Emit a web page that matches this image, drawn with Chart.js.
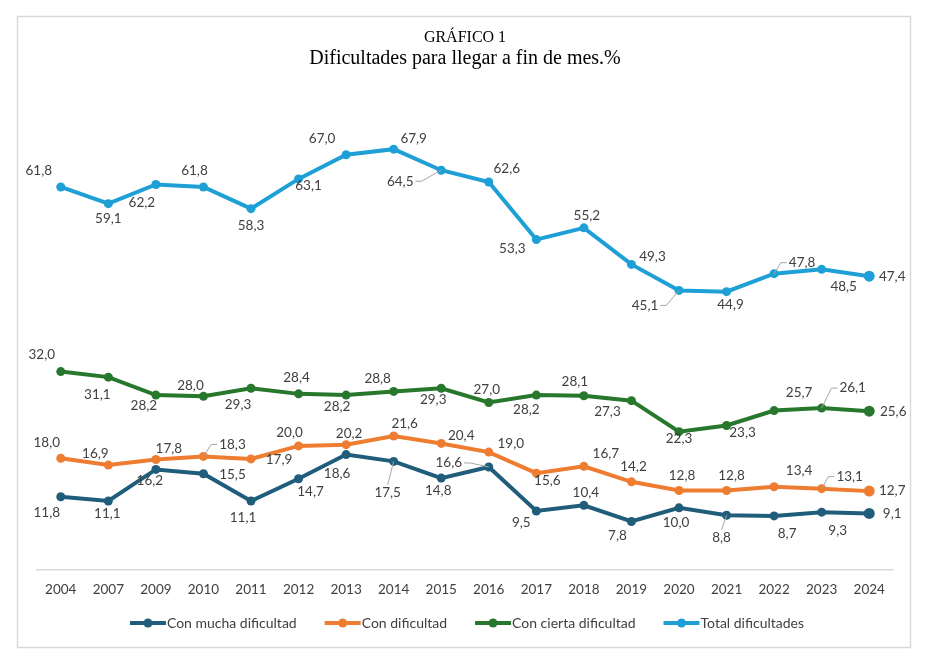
<!DOCTYPE html>
<html><head><meta charset="utf-8">
<script src="https://cdn.jsdelivr.net/npm/chart.js@4.4.1/dist/chart.umd.min.js"></script>
<style>html,body{margin:0;padding:0;background:#fff;} #wrap{width:936px;height:657px;position:relative;}</style>
</head><body><div id="wrap"><canvas id="c" width="936" height="657"></canvas></div>
<script>
// ---- data ----
const years = ['2004','2007','2009','2010','2011','2012','2013','2014','2015','2016','2017','2018','2019','2020','2021','2022','2023','2024'];
const conMucha = [11.8,11.1,16.2,15.5,11.1,14.7,18.6,17.5,14.8,16.6,9.5,10.4,7.8,10.0,8.8,8.7,9.3,9.1];
const conDificultad = [18.0,16.9,17.8,18.3,17.9,20.0,20.2,21.6,20.4,19.0,15.6,16.7,14.2,12.8,12.8,13.4,13.1,12.7];
const conCierta = [32.0,31.1,28.2,28.0,29.3,28.4,28.2,28.8,29.3,27.0,28.2,28.1,27.3,22.3,23.3,25.7,26.1,25.6];
const totalDif = [61.8,59.1,62.2,61.8,58.3,63.1,67.0,67.9,64.5,62.6,53.3,55.2,49.3,45.1,44.9,47.8,48.5,47.4];
const seriesNames = ['Con mucha dificultad','Con dificultad','Con cierta dificultad','Total dificultades'];

// ---- label placement (offset from point, optional leader line) ----
const labelMucha = [[-14,16],[-1,13],[-6,11],[29,1],[-8,17],[12,13],[-9,19],[-6,31,1],[-3,13],[-40,-4,1],[-15,12],[2,-13],[-14,14],[-3,15],[-5,22,1],[13,18],[16,18],[23,0]];
const labelDif = [[-14,-16],[-13,-11],[13,-11],[29,-12,1],[28,1],[-9,-13],[3,-11],[11,-12],[20,-8],[22,-8],[11,7],[22,-13],[2,-15],[3,-15],[5,-15],[25,-16],[28,-12,1],[23,0]];
const labelCierta = [[-19,-17],[-11,18],[-12,11],[-13,-11],[-13,16],[-2,-16],[-9,12],[-16,-13],[-8,11],[-2,-13],[-10,15],[-9,-14],[-24,11],[0,7],[16,7],[25,-18],[31,-20,1],[24,0]];
const labelTotal = [[-22,-16],[0,15],[-14,18],[-9,-16],[0,17],[10,7],[-24,-16],[20,-11],[-41,11,1],[18,-13],[-24,9],[3,-12],[21,-8],[-34,15,1],[4,13],[28,-11,1],[22,17],[23,0]];

const colors = ['#1F5D7B','#EE7D31','#27782D','#1EA0D7'];
const labelFont = '13.5px Lato';
const textColor = '#404040';

function ds(label, data, color, layout) {
  return {
    label, data,
    borderColor: color, backgroundColor: color,
    pointBackgroundColor: color, pointBorderColor: color,
    borderWidth: 4, pointBorderWidth: 0,
    pointRadius: c => c.dataIndex === data.length - 1 ? 5.5 : 4.5,
    tension: 0, labelLayout: layout
  };
}

const borderPlugin = {
  id: 'frame',
  beforeDraw(chart) {
    const ctx = chart.ctx;
    ctx.save();
    ctx.fillStyle = '#fff';
    ctx.fillRect(0, 0, chart.width, chart.height);
    ctx.strokeStyle = '#d9d9d9';
    ctx.lineWidth = 1.5;
    ctx.strokeRect(17.5, 16.5, 893, 631);
    ctx.restore();
  }
};

const labelPlugin = {
  id: 'valueLabels',
  afterDatasetsDraw(chart) {
    const ctx = chart.ctx;
    ctx.save();
    ctx.font = labelFont;
    ctx.textAlign = 'center';
    ctx.textBaseline = 'middle';
    chart.data.datasets.forEach((d, i) => {
      const meta = chart.getDatasetMeta(i);
      meta.data.forEach((pt, j) => {
        const lay = d.labelLayout[j];
        const txt = d.data[j].toFixed(1).replace('.', ',');
        const cx = pt.x + lay[0], cy = pt.y + lay[1];
        const w = ctx.measureText(txt).width, h = 11;
        if (lay[2]) {
          ctx.strokeStyle = '#a6a6a6';
          ctx.lineWidth = 1;
          ctx.beginPath();
          if (Math.abs(lay[0]) > w / 2 + 2) {
            const sgn = lay[0] < 0 ? 1 : -1;
            const sx = cx + sgn * (w / 2 + 2);
            ctx.moveTo(sx, cy);
            ctx.lineTo(sx + sgn * 6, cy);
          } else {
            const sy = lay[1] > 0 ? cy - h / 2 - 2 : cy + h / 2 + 2;
            ctx.moveTo(cx, sy);
          }
          ctx.lineTo(pt.x, pt.y);
          ctx.stroke();
        }
        ctx.fillStyle = textColor;
        ctx.fillText(txt, cx, cy);
      });
    });
    ctx.restore();
  }
};

const legendPlugin = {
  id: 'lineLegend',
  afterDraw(chart) {
    const ctx = chart.ctx;
    ctx.save();
    ctx.font = '14px Lato';
    ctx.textBaseline = 'middle';
    const lineW = 36, gapText = 1, gapItem = 28, yy = 623;
    const widths = seriesNames.map(n => ctx.measureText(n).width);
    const total = widths.reduce((a, b) => a + b + lineW + gapText, 0) + gapItem * (seriesNames.length - 1);
    let x = 467 - total / 2;
    seriesNames.forEach((n, i) => {
      ctx.strokeStyle = colors[i];
      ctx.fillStyle = colors[i];
      ctx.lineWidth = 4;
      ctx.beginPath();
      ctx.moveTo(x, yy); ctx.lineTo(x + lineW, yy); ctx.stroke();
      ctx.beginPath();
      ctx.arc(x + lineW / 2, yy, 4.5, 0, Math.PI * 2); ctx.fill();
      ctx.fillStyle = textColor;
      ctx.textAlign = 'left';
      ctx.fillText(n, x + lineW + gapText, yy);
      x += lineW + gapText + widths[i] + gapItem;
    });
    ctx.restore();
  }
};

new Chart(document.getElementById('c'), {
  type: 'line',
  data: {
    labels: years,
    datasets: [
      ds(seriesNames[0], conMucha, colors[0], labelMucha),
      ds(seriesNames[1], conDificultad, colors[1], labelDif),
      ds(seriesNames[2], conCierta, colors[2], labelCierta),
      ds(seriesNames[3], totalDif, colors[3], labelTotal)
    ]
  },
  options: {
    responsive: false,
    animation: false,
    devicePixelRatio: 1,
    layout: { padding: { left: 37, right: 43, top: 0, bottom: 47 } },
    plugins: {
      legend: { display: false },
      tooltip: { enabled: false },
      title: {
        display: true, text: 'GRÁFICO 1', color: '#000',
        font: { family: 'Liberation Serif', size: 16, weight: 'normal' },
        padding: { top: 28, bottom: 0 }
      },
      subtitle: {
        display: true, text: 'Dificultades para llegar a fin de mes.%', color: '#000',
        font: { family: 'Liberation Serif', size: 20, weight: 'normal' },
        padding: { top: 0, bottom: 3 }
      }
    },
    scales: {
      x: {
        offset: true,
        grid: { display: false, drawTicks: false },
        border: { display: true, color: '#d9d9d9', width: 1.5 },
        ticks: { color: textColor, font: { family: 'Lato', size: 13.5 }, padding: 12, maxRotation: 0, autoSkip: false }
      },
      y: { display: false, min: 0, max: 80 }
    }
  },
  plugins: [borderPlugin, labelPlugin, legendPlugin]
});
</script></body></html>
